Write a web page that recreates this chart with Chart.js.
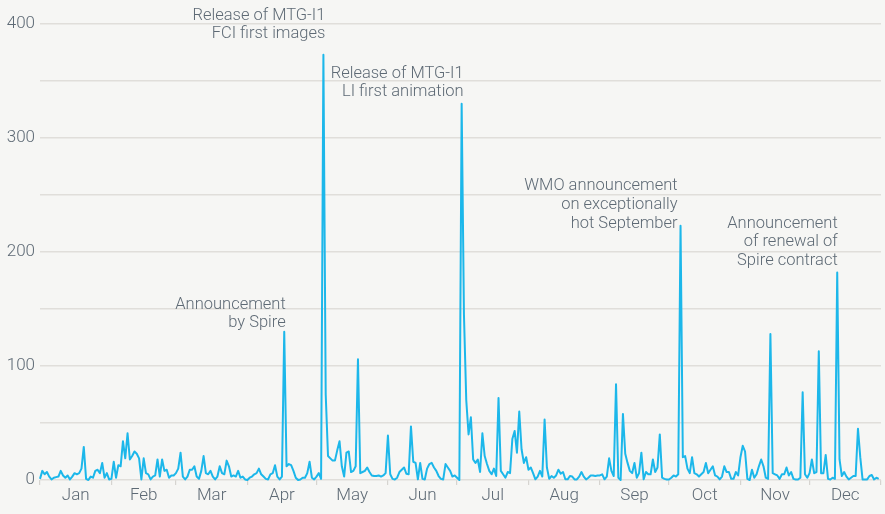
<!DOCTYPE html>
<html>
<head>
<meta charset="utf-8">
<script src="https://cdn.jsdelivr.net/npm/chart.js@4.4.1/dist/chart.umd.min.js"></script>
<style>
  html, body { margin: 0; padding: 0; background: #f6f6f4; }
  #wrap { width: 885px; height: 514px; position: relative; }
</style>
</head>
<body>
<div id="wrap"><canvas id="c"></canvas></div>
<script>
// ---- Data: daily values per month (day-of-year order) ----
const jan = [1,8,5,7,3,0.5,2,2.5,3,8,4,2,4,0.5,3,6,5,6,10,29,1,0,3,2,8,9,6,15,2,6,0.5];
const feb = [1,16,2,13,12,34,19,41,18,21,25,23,19,0.5,19,6,5,0.5,3,4,18,3,18,8,9,2,4,4];
const mar = [6,10,24,3,0.5,3,9,9,12,3,1,8,21,6,5,8,3,0.5,3,12,6,5,17,12,3,4,3,8,2,3,0.5];
const apr = [0,2,3,5,6,10,5,3,1,0.5,5,6,13,3,0.5,3,130,12,14,13,8,2,0,0.5,2,2,6,16,2,0.5];
const may = [3,6,1,373,75,21,19,17,17,26,34,12,3,24,25,7,8,12,106,6,7,8,11,7,4,3.5,3.5,4,3,4,6];
const jun = [39,5,1,0.5,2,7,9,11,5.5,5,47,16,15,0.6,15,1,0.5,10,14,15,11,8,3.5,1,0.5,14,11,8,3,4];
const jul = [2,0,330,145,70,40,55,18,15,18,7,41,21,14,8,5,10,3.5,72,8,5,2,7,6,36,43,24,60,27,15,20];
const aug = [9,11,6,0.6,3,8,3,53,11,1,3.5,2,4,9,5.5,7,0.6,0.6,3.5,3,0.5,0.5,3,7,3,0.5,2,4,4,3.5,4];
const sep = [4,5,0.6,3,19,8,3.5,84,2,0,58,23,15,8,6,15,2,6,24,0.6,7,5,5,18,7,11,40,2,1,0.5];
const oct = [0.5,2,4,3,5,223,20,21,10,6,20,6,5,3,5,7,15,6,9,12,4,3,0.6,3,12,7,7,1,1,7,4];
const nov = [20,30,25,1,0,9,2,5,12,18,12,2,1,128,6,5,4,1,5,5,11,4,7,1,0.5,0.5,2,77,5,2];
const dec = [6,18,6,7,113,6,6,22,1,0.5,2,1,182,18,3.5,7,3,0.5,2,3.5,3.5,45,20,0.5,0.5,0.5,3.5,4.4,0.5,2,1];

const monthLabels = ['Jan','Feb','Mar','Apr','May','Jun','Jul','Aug','Sep','Oct','Nov','Dec'];
const yTickValues = [0,100,200,300,400];

// Annotations: day index of the spike and text lines
const annotationDays = [106, 123, 183, 278, 346];
const annotationTexts = [
  ['Announcement','by Spire'],
  ['Release of MTG-I1','FCI first images'],
  ['Release of MTG-I1','LI first animation'],
  ['WMO announcement','on exceptionally','hot September'],
  ['Announcement','of renewal of','Spire contract']
];

// ---- Build from data ----
const months = [jan,feb,mar,apr,may,jun,jul,aug,sep,oct,nov,dec];
const values = [].concat(...months);
const points = values.map((v, i) => ({x: i, y: v}));
const bounds = [0];
months.forEach(m => bounds.push(bounds[bounds.length-1] + m.length));

// layout-only offsets (px) of annotation text relative to the spike tip
const annotationLayout = [
  {dx: 1.5, dy: -8.5},
  {dx: 2, dy: -20.5},
  {dx: 2, dy: -11.5},
  {dx: -3, dy: -2},
  {dx: 0.5, dy: -11.5}
];

const TEXT = '#5e6a75';
const GRID = '#e0deda';
const FONT = 'Roboto, "DejaVu Sans", sans-serif';

const bgPlugin = {
  id: 'bg',
  beforeDraw(chart) {
    const c = chart.ctx;
    c.save();
    c.fillStyle = '#f6f6f4';
    c.fillRect(0, 0, chart.width, chart.height);
    c.restore();
  }
};

const annPlugin = {
  id: 'ann',
  afterDatasetsDraw(chart) {
    const c = chart.ctx;
    const xs = chart.scales.x, ys = chart.scales.y;
    c.save();
    c.font = '300 16.5px ' + FONT;
    c.fillStyle = TEXT;
    c.textAlign = 'right';
    c.textBaseline = 'middle';
    const lh = 18.8;
    annotationDays.forEach((d, i) => {
      const px = xs.getPixelForValue(d) + annotationLayout[i].dx;
      const py = ys.getPixelForValue(values[d]) + annotationLayout[i].dy;
      const lines = annotationTexts[i];
      lines.forEach((t, j) => {
        c.fillText(t, px, py - (lines.length - 1 - j) * lh);
      });
    });
    c.restore();
  }
};

new Chart(document.getElementById('c'), {
  type: 'line',
  data: {
    datasets: [{
      data: points,
      borderColor: '#1cb7ea',
      borderWidth: 2,
      pointRadius: 0,
      tension: 0,
      borderJoinStyle: 'round',
      fill: false,
      clip: 6
    }]
  },
  options: {
    responsive: true,
    maintainAspectRatio: false,
    animation: false,
    layout: { padding: { top: 24, right: 4, left: 0, bottom: 0 } },
    plugins: { legend: { display: false }, tooltip: { enabled: false } },
    scales: {
      x: {
        type: 'linear',
        min: 0,
        max: bounds[bounds.length-1],
        afterBuildTicks(scale) {
          const t = [];
          for (let i = 0; i < bounds.length; i++) {
            t.push({value: bounds[i]});
            if (i < monthLabels.length) t.push({value: (bounds[i] + bounds[i+1]) / 2});
          }
          scale.ticks = t;
        },
        afterFit(scale) { scale.height = 34; },
        border: { display: false },
        grid: {
          drawOnChartArea: false,
          drawTicks: true,
          tickLength: 5,
          lineWidth: 1.2,
          tickColor(ctx) {
            const v = ctx.tick ? ctx.tick.value : 0;
            return bounds.includes(v) ? '#d6d4d0' : 'rgba(0,0,0,0)';
          }
        },
        ticks: {
          autoSkip: false,
          maxRotation: 0,
          padding: 1,
          color: TEXT,
          font: { family: FONT, size: 17, weight: '300' },
          callback(v) {
            const i = bounds.findIndex((b, k) => k < monthLabels.length && (b + bounds[k+1]) / 2 === v);
            return i >= 0 ? monthLabels[i] : '';
          }
        }
      },
      y: {
        min: 0,
        max: 400,
        afterFit(scale) { scale.width = 40; },
        border: { display: false },
        grid: { color: GRID, lineWidth: 1.5, drawTicks: false },
        ticks: {
          stepSize: 50,
          padding: 5,
          color: TEXT,
          font: { family: FONT, size: 17, weight: '300' },
          callback(v) { return yTickValues.includes(v) ? String(v) : ''; }
        }
      }
    }
  },
  plugins: [bgPlugin, annPlugin]
});
</script>
</body>
</html>
